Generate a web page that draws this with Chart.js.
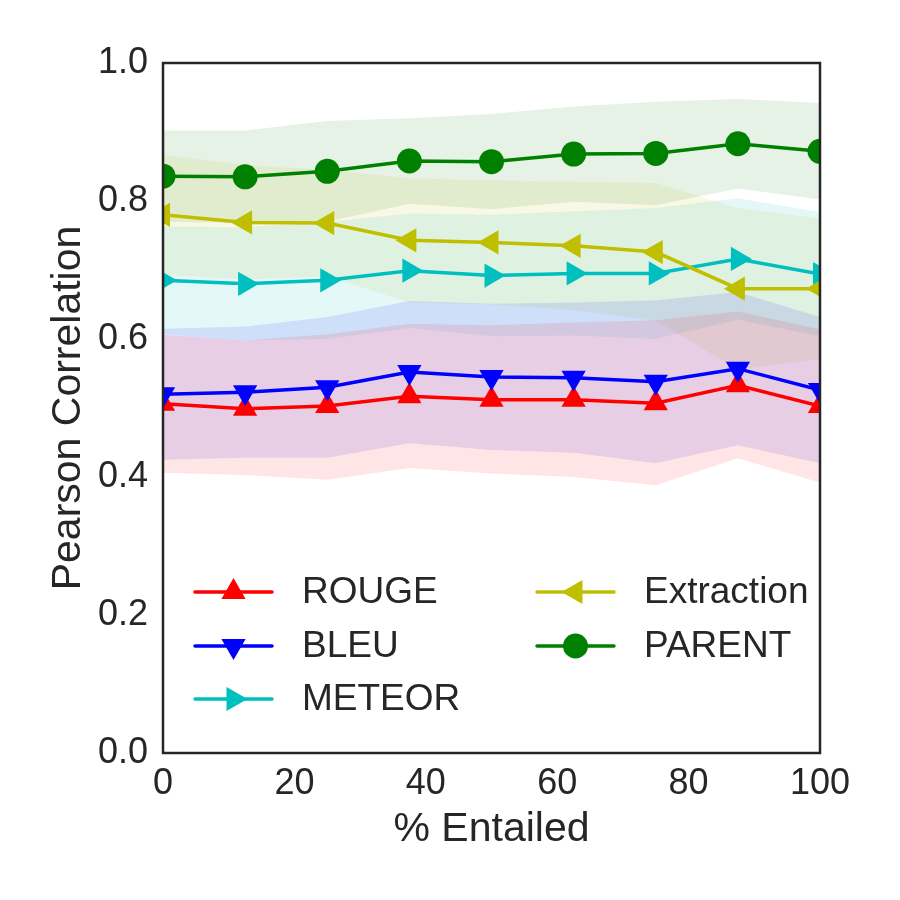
<!DOCTYPE html>
<html>
<head>
<meta charset="utf-8">
<script src="https://cdn.jsdelivr.net/npm/chart.js@4.4.0/dist/chart.umd.min.js"></script>
<style>
  html, body { margin: 0; padding: 0; background: #fff; }
  #wrap { width: 900px; height: 900px; }
</style>
</head>
<body>
<div id="wrap"><canvas id="chart" width="900" height="900"></canvas></div>
<script>
// x positions (% entailed) and axis ticks
const entailed = [0, 12.5, 25, 37.5, 50, 62.5, 75, 87.5, 100];
const xTicks = [0, 20, 40, 60, 80, 100];
const yTicks = [0.0, 0.2, 0.4, 0.6, 0.8, 1.0];

// mean correlation + shaded band (low/high)
const rougeMean = [0.506, 0.499, 0.503, 0.517, 0.512, 0.512, 0.507, 0.533, 0.503];
const rougeLow  = [0.406, 0.403, 0.396, 0.413, 0.405, 0.400, 0.388, 0.427, 0.392];
const rougeHigh = [0.606, 0.598, 0.607, 0.622, 0.620, 0.624, 0.627, 0.640, 0.614];

const bleuMean = [0.520, 0.523, 0.530, 0.552, 0.545, 0.544, 0.538, 0.557, 0.526];
const bleuLow  = [0.425, 0.428, 0.428, 0.449, 0.439, 0.435, 0.420, 0.446, 0.420];
const bleuHigh = [0.615, 0.618, 0.632, 0.655, 0.651, 0.653, 0.656, 0.668, 0.632];

const meteorMean = [0.685, 0.680, 0.685, 0.699, 0.692, 0.695, 0.695, 0.716, 0.694];
const meteorLow  = [0.607, 0.598, 0.600, 0.616, 0.604, 0.605, 0.600, 0.628, 0.604];
const meteorHigh = [0.763, 0.762, 0.770, 0.782, 0.780, 0.785, 0.790, 0.804, 0.784];

const extractionMean = [0.780, 0.769, 0.768, 0.743, 0.740, 0.735, 0.726, 0.673, 0.673];
const extractionLow  = [0.693, 0.686, 0.691, 0.653, 0.650, 0.642, 0.626, 0.556, 0.571];
const extractionHigh = [0.867, 0.852, 0.845, 0.833, 0.830, 0.828, 0.826, 0.790, 0.775];

const parentMean = [0.836, 0.835, 0.843, 0.858, 0.857, 0.868, 0.869, 0.883, 0.872];
const parentLow  = [0.770, 0.768, 0.770, 0.796, 0.788, 0.799, 0.794, 0.818, 0.802];
const parentHigh = [0.902, 0.902, 0.916, 0.920, 0.926, 0.937, 0.944, 0.948, 0.942];

const TEXT = "#262626";
const FONT = "'Liberation Sans', Arial, sans-serif";

const series = [
  { name: "ROUGE", color: "#ff0000", band: "rgba(255,0,0,0.1)", style: "triangle", rot: 0, r: 14, mean: rougeMean, low: rougeLow, high: rougeHigh },
  { name: "BLEU", color: "#0000ff", band: "rgba(0,0,255,0.1)", style: "triangle", rot: 180, r: 14, mean: bleuMean, low: bleuLow, high: bleuHigh },
  { name: "METEOR", color: "#00bfbf", band: "rgba(0,191,191,0.1)", style: "triangle", rot: 90, r: 14, mean: meteorMean, low: meteorLow, high: meteorHigh },
  { name: "Extraction", color: "#bfbf00", band: "rgba(191,191,0,0.1)", style: "triangle", rot: 270, r: 14, mean: extractionMean, low: extractionLow, high: extractionHigh },
  { name: "PARENT", color: "#008000", band: "rgba(0,128,0,0.1)", style: "circle", rot: 0, r: 12.5, mean: parentMean, low: parentLow, high: parentHigh },
];

const toPts = arr => arr.map((v, i) => ({ x: entailed[i], y: v }));

const datasets = [];
// bands first (upper fills down to the lower one right after it)
series.forEach(s => {
  datasets.push({ label: s.name + " high", data: toPts(s.high), borderWidth: 0, pointRadius: 0,
    backgroundColor: s.band, fill: "+1", order: 20, clip: 0 });
  datasets.push({ label: s.name + " low", data: toPts(s.low), borderWidth: 0, pointRadius: 0,
    fill: false, order: 20, clip: 0 });
});
// mean lines, later series drawn on top
series.forEach((s, i) => {
  datasets.push({
    label: s.name, data: toPts(s.mean), borderColor: s.color, backgroundColor: s.color,
    borderWidth: 3.5, pointStyle: s.style, pointRotation: s.rot, pointRadius: s.r,
    pointBorderWidth: 0, fill: false, order: 10 - i, clip: 0,
  });
});

function drawMarker(ctx, s, x, y) {
  ctx.save();
  ctx.fillStyle = s.color;
  ctx.beginPath();
  if (s.style === "circle") {
    ctx.arc(x, y, s.r, 0, Math.PI * 2);
  } else {
    const rad = s.rot * Math.PI / 180;
    for (let k = 0; k < 3; k++) {
      const a = rad + k * 2 * Math.PI / 3;
      const px = x + Math.sin(a) * s.r, py = y - Math.cos(a) * s.r;
      if (k === 0) ctx.moveTo(px, py); else ctx.lineTo(px, py);
    }
    ctx.closePath();
  }
  ctx.fill();
  ctx.restore();
}

// frame round the plot + legend in two columns
const framePlugin = {
  id: "frameLegend",
  afterDraw(chart) {
    const { ctx, chartArea: a } = chart;
    ctx.save();
    ctx.strokeStyle = TEXT;
    ctx.lineWidth = 2.5;
    ctx.strokeRect(a.left, a.top, a.right - a.left, a.bottom - a.top);

    const cols = [195, 537];
    const rows = [592, 646, 699];
    ctx.font = "37px " + FONT;
    ctx.textBaseline = "middle";
    ctx.fillStyle = TEXT;
    series.forEach((s, i) => {
      const c = i < 3 ? 0 : 1, rr = i < 3 ? i : i - 3;
      const x0 = cols[c], y = rows[rr];
      ctx.strokeStyle = s.color;
      ctx.lineWidth = 3.5;
      ctx.lineCap = "round";
      ctx.beginPath();
      ctx.moveTo(x0, y);
      ctx.lineTo(x0 + 77, y);
      ctx.stroke();
      drawMarker(ctx, s, x0 + 38.5, y);
      ctx.fillStyle = TEXT;
      ctx.fillText(s.name, x0 + 107, y + 1);
    });
    ctx.restore();
  }
};

new Chart(document.getElementById("chart"), {
  type: "line",
  data: { datasets },
  options: {
    responsive: false,
    animation: false,
    layout: { padding: { left: 0, right: 80, top: 63, bottom: 0 } },
    plugins: {
      legend: { display: false },
      tooltip: { enabled: false },
      filler: { drawTime: "beforeDatasetsDraw" },
    },
    scales: {
      x: {
        type: "linear", min: 0, max: 100,
        grid: { display: false, drawTicks: false },
        border: { display: false },
        afterBuildTicks: s => { s.ticks = xTicks.map(v => ({ value: v })); },
        afterFit: s => { s.height = 147; s.paddingLeft = 0; s.paddingRight = 0; },
        ticks: { color: TEXT, font: { family: FONT, size: 36 }, padding: 9, maxRotation: 0 },
        title: { display: true, text: "% Entailed", color: TEXT, font: { family: FONT, size: 41 }, padding: { top: 0, bottom: 46 } },
      },
      y: {
        type: "linear", min: 0, max: 1,
        grid: { display: false, drawTicks: false },
        border: { display: false },
        afterBuildTicks: s => { s.ticks = yTicks.map(v => ({ value: v })); },
        afterFit: s => { s.width = 163; s.paddingTop = 0; s.paddingBottom = 0; },
        ticks: { color: TEXT, font: { family: FONT, size: 36 }, padding: 15, callback: v => v.toFixed(1) },
        title: { display: true, text: "Pearson Correlation", color: TEXT, font: { family: FONT, size: 41 }, padding: { top: 44, bottom: 0 } },
      },
    },
  },
  plugins: [framePlugin],
});
</script>
</body>
</html>
